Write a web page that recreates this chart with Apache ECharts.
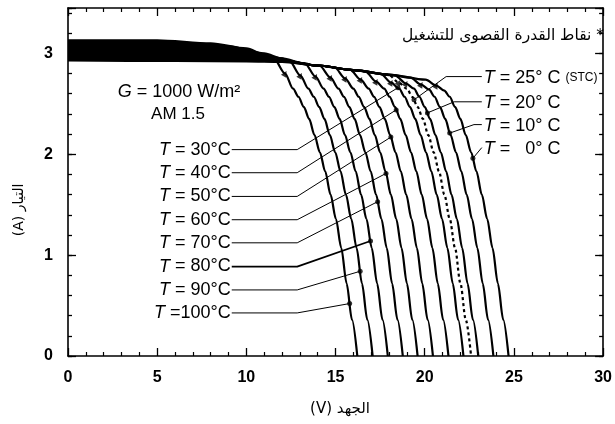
<!DOCTYPE html>
<html><head><meta charset="utf-8">
<script src="https://cdn.jsdelivr.net/npm/echarts@6/dist/echarts.min.js"></script>
<style>html,body{margin:0;padding:0;background:#fff}#c{width:615px;height:424px}</style>
</head><body><div id="c"></div>
<script>
// Temperatures (°C) of the I-V curves
const temps = [0, 10, 20, 25, 30, 40, 50, 60, 70, 80, 90, 100];

// I-V curves: [voltage V, current A]
const curve100 = [[0,3.13],[5,3.13],[8,3.10],[10,3.05],[11,2.99],[11.57,2.94],[12.17,2.80],[12.62,2.65],[12.92,2.57],[13.22,2.47],[13.52,2.35],[13.82,2.19],[14.12,2.02],[14.42,1.83],[14.72,1.6],[15.02,1.36],[15.32,1.07],[15.62,0.72],[15.92,0.36],[16.22,0]];
const curve90 = [[0,3.11],[6,3.10],[9,3.07],[11,3.00],[12,2.95],[12.43,2.92],[13.03,2.78],[13.48,2.65],[13.78,2.57],[14.08,2.47],[14.38,2.35],[14.68,2.19],[14.98,2.02],[15.28,1.83],[15.58,1.6],[15.88,1.36],[16.18,1.07],[16.48,0.72],[16.78,0.36],[17.08,0]];
const curve80 = [[0,3.09],[6,3.08],[10,3.02],[12,2.95],[13.28,2.90],[13.88,2.77],[14.33,2.65],[14.63,2.57],[14.93,2.47],[15.23,2.35],[15.53,2.19],[15.83,2.02],[16.13,1.83],[16.43,1.6],[16.73,1.36],[17.03,1.07],[17.33,0.72],[17.63,0.36],[17.93,0]];
const curve70 = [[0,3.07],[6,3.06],[10,3.0],[12,2.93],[13,2.905],[14.12,2.875],[14.72,2.76],[15.17,2.65],[15.47,2.57],[15.77,2.47],[16.07,2.35],[16.37,2.19],[16.67,2.02],[16.97,1.83],[17.27,1.6],[17.57,1.36],[17.87,1.07],[18.17,0.72],[18.47,0.36],[18.77,0]];
const curve60 = [[0,3.05],[6,3.04],[10,2.98],[12,2.93],[14,2.88],[14.95,2.86],[15.55,2.75],[16.0,2.65],[16.3,2.57],[16.6,2.47],[16.9,2.35],[17.2,2.19],[17.5,2.02],[17.8,1.83],[18.1,1.6],[18.4,1.36],[18.7,1.07],[19.0,0.72],[19.3,0.36],[19.6,0]];
const curve50 = [[0,3.03],[6,3.02],[10,2.97],[12,2.93],[14,2.88],[15.81,2.84],[16.41,2.74],[16.86,2.65],[17.16,2.57],[17.46,2.47],[17.76,2.35],[18.06,2.19],[18.36,2.02],[18.66,1.83],[18.96,1.6],[19.26,1.36],[19.56,1.07],[19.86,0.72],[20.16,0.36],[20.46,0]];
const curve40 = [[0,3.01],[6,3.0],[10,2.96],[12,2.93],[14,2.88],[16,2.835],[16.68,2.82],[17.28,2.72],[17.73,2.65],[18.03,2.57],[18.33,2.47],[18.63,2.35],[18.93,2.19],[19.23,2.02],[19.53,1.83],[19.83,1.6],[20.13,1.36],[20.43,1.07],[20.73,0.72],[21.03,0.36],[21.33,0]];
const curve30 = [[0,2.99],[6,2.98],[10,2.95],[12,2.93],[14,2.88],[16,2.835],[17.52,2.80],[18.12,2.71],[18.57,2.65],[18.87,2.57],[19.17,2.47],[19.47,2.35],[19.77,2.19],[20.07,2.02],[20.37,1.83],[20.67,1.6],[20.97,1.36],[21.27,1.07],[21.57,0.72],[21.87,0.36],[22.17,0]];
const curve25 = [[0,2.98],[6,2.97],[10,2.945],[12,2.93],[14,2.88],[16,2.835],[17.95,2.79],[18.55,2.71],[19.0,2.65],[19.3,2.57],[19.6,2.47],[19.9,2.35],[20.2,2.19],[20.5,2.02],[20.8,1.83],[21.1,1.6],[21.4,1.36],[21.7,1.07],[22.0,0.72],[22.3,0.36],[22.6,0]];
const curve20 = [[0,2.97],[6,2.96],[10,2.94],[12,2.925],[14,2.88],[16,2.835],[18.35,2.78],[18.95,2.70],[19.4,2.65],[19.7,2.57],[20.0,2.47],[20.3,2.35],[20.6,2.19],[20.9,2.02],[21.2,1.83],[21.5,1.6],[21.8,1.36],[22.1,1.07],[22.4,0.72],[22.7,0.36],[23.0,0]];
const curve10 = [[0,2.95],[6,2.945],[10,2.93],[12,2.92],[14,2.88],[16,2.835],[18,2.79],[19.2,2.76],[19.8,2.69],[20.25,2.64],[20.55,2.57],[20.85,2.47],[21.15,2.35],[21.45,2.19],[21.75,2.02],[22.05,1.83],[22.35,1.6],[22.65,1.36],[22.95,1.07],[23.25,0.72],[23.55,0.36],[23.85,0]];
const curve0 = [[0,2.93],[6,2.925],[10,2.92],[12,2.915],[14,2.88],[16,2.835],[18,2.79],[20.05,2.74],[20.65,2.68],[21.1,2.63],[21.4,2.57],[21.7,2.47],[22.0,2.35],[22.3,2.19],[22.6,2.02],[22.9,1.83],[23.2,1.6],[23.5,1.36],[23.8,1.07],[24.1,0.72],[24.4,0.36],[24.7,0]];

const curvesByTemp = {0:curve0,10:curve10,20:curve20,25:curve25,30:curve30,40:curve40,50:curve50,60:curve60,70:curve70,80:curve80,90:curve90,100:curve100};

// Voltage up to which the hot-to-cold bundle of curves overlaps (solid black band)
const bandEndV = 11.57;

// Maximum power operating points (*)
const mppPoints = [[12.17,2.80],[13.03,2.78],[13.88,2.77],[14.72,2.76],[15.55,2.75],[16.41,2.74],[17.28,2.72],[18.12,2.71],[18.55,2.71],[18.95,2.70],[19.8,2.69],[20.65,2.68]];

// Left labels (T = 30 ... 100 °C) with leader lines
const leftTemps = [30, 40, 50, 60, 70, 80, 90, 100];
const leftLabelTexts = ['{i|T} = 30°C','{i|T} = 40°C','{i|T} = 50°C','{i|T} = 60°C','{i|T} = 70°C','{i|T} = 80°C','{i|T} = 90°C','{i|T} =100°C'];
const leftRowI = [2.046, 1.817, 1.582, 1.351, 1.122, 0.887, 0.655, 0.427];
const leftDots = [[18.5,2.66],[18.4,2.44],[18.1,2.17],[17.83,1.81],[17.36,1.53],[16.96,1.14],[16.38,0.84],[15.79,0.52]];
const leftStartV = 9.18, leftElbowV = 12.85;

// Right labels (T = 25, 20, 10, 0 °C)
const rightTemps = [25, 20, 10, 0];
const rightLabelTexts = ['{i|T} = 25° C {s|(STC)}','{i|T} = 20° C','{i|T} = 10° C','{i|T} =   0° C'];
const rightRowI = [2.77, 2.52, 2.294, 2.066];
const rightElbowV = [21.2, 21.65, 22.76, 23.09];
const rightDots = [[19.4,2.54],[20.15,2.41],[21.4,2.21],[22.7,1.96]];
const rightStartV = 23.2;

// Axes
const xMin = 0, xMax = 30, xMajor = 5;
const yMin = 0, yMax = 3.45, yMajor = 1, yMinor = 0.2;

const FONT = 'Liberation Sans, Arial, sans-serif';
const AR = 'DejaVu Sans, sans-serif';

const chart = echarts.init(document.getElementById('c'), null, {renderer:'canvas'});

function xAx(pos, labels){
  return {type:'value', position:pos, min:xMin, max:xMax, interval:xMajor,
    axisLine:{show:true, onZero:false, lineStyle:{color:'#000', width:1.6}},
    axisTick:{show:true, inside:true, length:8, lineStyle:{color:'#000', width:1.3}},
    minorTick:{show:true, splitNumber:5, length:4, lineStyle:{color:'#000', width:1.2}},
    axisLabel:{show:labels, margin:14, color:'#000', fontFamily:FONT, fontSize:16, fontWeight:'bold'},
    splitLine:{show:false}, minorSplitLine:{show:false}};
}
function yAx(pos, interval, len, labels, line){
  return {type:'value', position:pos, min:yMin, max:yMax, interval:interval,
    axisLine:{show:line, onZero:false, lineStyle:{color:'#000', width:1.6}},
    axisTick:{show:true, inside:true, length:len, lineStyle:{color:'#000', width:1.3}},
    axisLabel:{show:labels, margin:15, color:'#000', fontFamily:FONT, fontSize:16, fontWeight:'bold',
      formatter:function(v){ return (Math.abs(v-Math.round(v))<1e-6 && v<=3) ? String(Math.round(v)) : ''; }},
    splitLine:{show:false}};
}

function interp(curve, v){
  for (let k=1;k<curve.length;k++){
    if (curve[k][0] >= v){
      const a = curve[k-1], b = curve[k];
      return a[1] + (b[1]-a[1])*(v-a[0])/(b[0]-a[0]);
    }
  }
  return curve[curve.length-1][1];
}

const series = [];
// solid band where all curves overlap: between hottest (top) and coldest (bottom) curve
series.push({type:'custom', data:[0], z:1, silent:true,
  renderItem:function(params, api){
    const top = curve100.filter(function(p){return p[0] <= bandEndV;});
    const bot = curve0.filter(function(p){return p[0] < bandEndV;}).concat([[bandEndV, interp(curve0, bandEndV)]]);
    const pts = top.map(function(p){return api.coord(p);}).concat(bot.slice().reverse().map(function(p){return api.coord(p);}));
    return {type:'polygon', shape:{points:pts, smooth:0}, style:{fill:'#000'}};
  }});
temps.forEach(function(t){
  series.push({type:'line', name:'T'+t, data:curvesByTemp[t], xAxisIndex:0, yAxisIndex:0,
    symbol:'none', smooth:0.3, smoothMonotone:'x', z:3,
    lineStyle:{color:'#000', width:2.2, type: t===25 ? [3,3] : 'solid'}});
});
// leader lines
leftTemps.forEach(function(t,i){
  series.push({type:'line', data:[[leftStartV,leftRowI[i]],[leftElbowV,leftRowI[i]],leftDots[i]],
    symbol:'none', z:2, lineStyle:{color:'#000', width: t===80 ? 1.8 : 1}});
});
rightTemps.forEach(function(t,i){
  series.push({type:'line', data:[[rightStartV,rightRowI[i]],[rightElbowV[i],rightRowI[i]],rightDots[i]],
    symbol:'none', z:2, lineStyle:{color:'#000', width:1}});
});
series.push({type:'scatter', data:leftDots.concat(rightDots), symbol:'circle', symbolSize:5,
  itemStyle:{color:'#000'}, z:5});
series.push({type:'scatter', data:mppPoints, symbol:'triangle', symbolSize:6, symbolRotate:-30,
  itemStyle:{color:'#000'}, z:5});

chart.setOption({
  animation:false,
  backgroundColor:'#fff',
  grid:{left:68, right:8, top:8, bottom:68, containLabel:false},
  xAxis:[xAx('bottom', true), xAx('top', false)],
  yAxis:[yAx('left', yMajor, 8, true, true), yAx('left', yMinor, 4, false, false),
         yAx('right', yMajor, 8, false, true), yAx('right', yMinor, 4, false, false)],
  series:series
});

// text annotations
const g = [];
const rich = {i:{fontStyle:'italic', fontFamily:FONT, fontSize:18, fill:'#000'}, s:{fontFamily:FONT, fontSize:12, fill:'#000'}};
leftLabelTexts.forEach(function(txt,i){
  const p = chart.convertToPixel({xAxisIndex:0, yAxisIndex:0}, [leftStartV, leftRowI[i]]);
  g.push({type:'text', x:p[0]-1, y:p[1], z:10, style:{text:txt, rich:rich, fontFamily:FONT, fontSize:18, fill:'#000', align:'right', verticalAlign:'middle'}});
});
rightLabelTexts.forEach(function(txt,i){
  const p = chart.convertToPixel({xAxisIndex:0, yAxisIndex:0}, [rightStartV, rightRowI[i]]);
  g.push({type:'text', x:p[0]+2, y:p[1]+1, z:10, style:{text:txt, rich:rich, fontFamily:FONT, fontSize:18, fill:'#000', align:'left', verticalAlign:'middle'}});
});
g.push({type:'text', x:179, y:92, z:10, style:{text:'{i|G} = 1000 W/m²', rich:rich, fontFamily:FONT, fontSize:18, fill:'#000', align:'center', verticalAlign:'middle'}});
g.push({type:'text', x:178, y:114, z:10, style:{text:'AM 1.5', fontFamily:FONT, fontSize:17, fill:'#000', align:'center', verticalAlign:'middle'}});
g.push({type:'text', x:604, y:36, z:10, style:{text:'نقاط القدرة القصوى للتشغيل *', fontFamily:AR, fontSize:15.5, fill:'#000', align:'right', verticalAlign:'middle'}});
g.push({type:'text', x:340, y:409, z:10, style:{text:'(V) الجهد', fontFamily:AR, fontSize:15, fill:'#000', align:'center', verticalAlign:'middle'}});
g.push({type:'text', x:19, y:210, rotation:Math.PI/2, z:10, style:{text:'(A) التيار', fontFamily:AR, fontSize:14, fill:'#000', align:'center', verticalAlign:'middle'}});
chart.setOption({graphic:g});
</script></body></html>
